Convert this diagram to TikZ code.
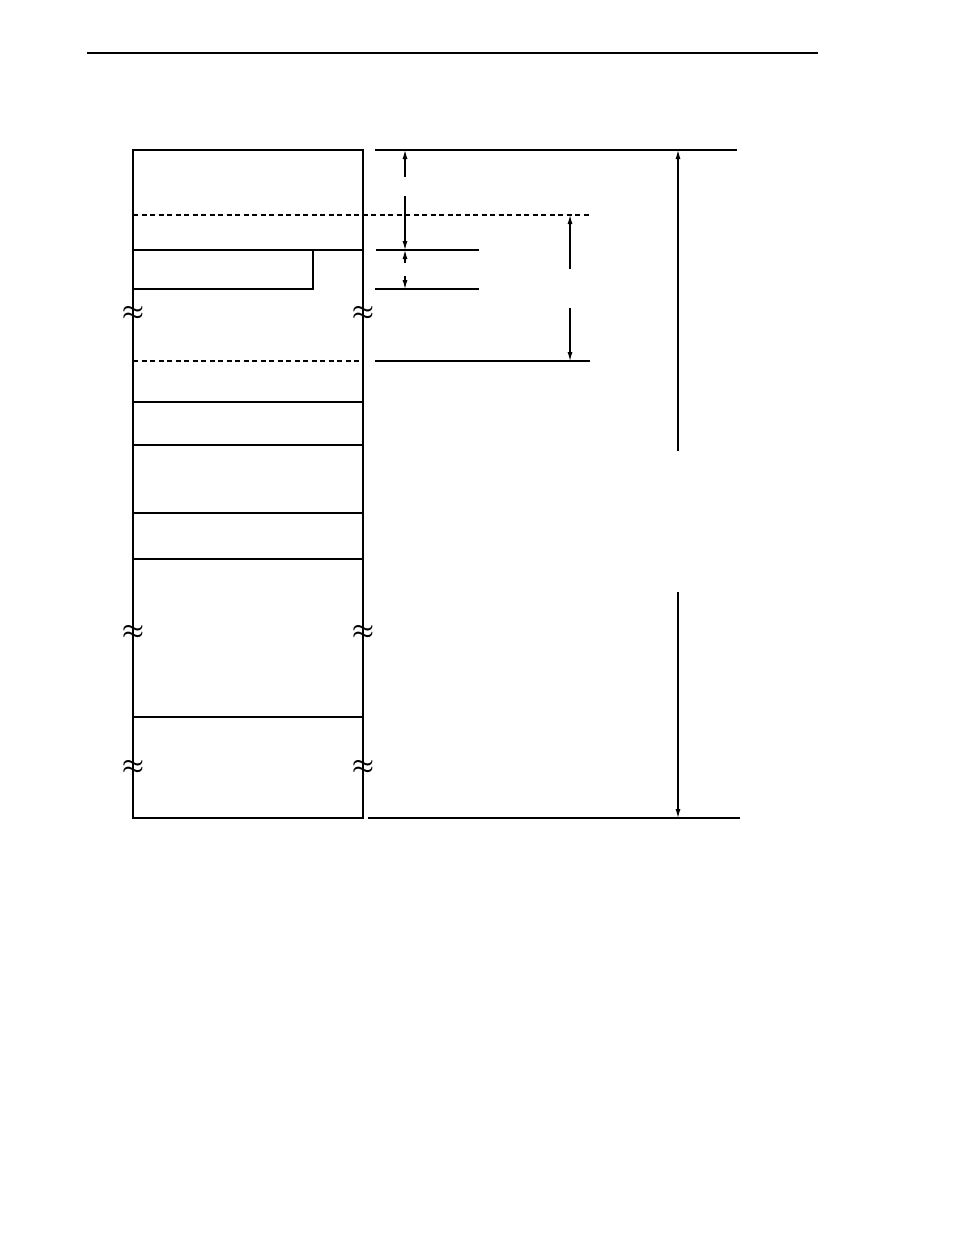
\documentclass[tikz,border=0pt]{standalone}
\usepackage{amsmath, amssymb}
\usetikzlibrary{arrows.meta}

\begin{document}
\begin{tikzpicture}[x=1pt, y=-1pt, line width=1.1pt, >={Latex[length=9pt,width=5pt]}]
  \tikzset{
    rule/.style={line width=1.1pt},
    border/.style={line width=1.8pt},
    dashrule/.style={line width=1.1pt, dash pattern=on 5pt off 3.5pt},
    wave/.style={inner sep=0pt, font=\fontsize{24}{24}\selectfont\boldmath}
  }
  \useasboundingbox (0,0) rectangle (954,1235);

  % Kopflinie
  \draw[rule] (87,53) -- (818,53);

  % Speicherblock
  \draw[rule] (133,150) -- (133,818);
  \draw[rule] (363,150) -- (363,818);
  \draw[border] (132,150) -- (364,150);
  \draw[border] (132,818) -- (364,818);
  \draw[dashrule] (133,215) -- (590,215);
  \draw[rule] (133,250) -- (363,250);
  \draw[rule] (313,250) -- (313,289) -- (133,289);
  \draw[dashrule] (133,361) -- (363,361);
  \foreach \y in {402,445,513,559,717}
    \draw[rule] (133,\y) -- (363,\y);

  % Unterbrechungen
  \foreach \y in {313,632,767} {
    \node[wave] at (133,\y) {$\approx$};
    \node[wave] at (363,\y) {$\approx$};
  }

  % Bezugslinien rechts
  \coordinate (T0) at (375,150);  \coordinate (T1) at (737,150);
  \coordinate (A0) at (376,250);  \coordinate (A1) at (479,250);
  \coordinate (B0) at (375,289);  \coordinate (B1) at (479,289);
  \coordinate (C0) at (375,361);  \coordinate (C1) at (590,361);
  \coordinate (E0) at (368,818);  \coordinate (E1) at (740,818);
  \draw[rule] (T0) -- (T1);
  \draw[rule] (A0) -- (A1);
  \draw[rule] (B0) -- (B1);
  \draw[rule] (C0) -- (C1);
  \draw[rule] (E0) -- (E1);

  % Masspfeile
  \coordinate (p1) at (405,177);  \coordinate (p2) at (405,196);
  \coordinate (p3) at (405,263);  \coordinate (p4) at (405,276);
  \coordinate (q1) at (570,269);  \coordinate (q2) at (570,308);
  \coordinate (r1) at (678,451);  \coordinate (r2) at (678,592);
  \draw[->] (p1) -- (405,150);
  \draw[->] (p2) -- (405,250);
  \draw[->] (p3) -- (405,250);
  \draw[->] (p4) -- (405,289);
  \draw[->] (q1) -- (570,215);
  \draw[->] (q2) -- (570,361);
  \draw[->] (r1) -- (678,150);
  \draw[->] (r2) -- (678,818);
\end{tikzpicture}
\end{document}
